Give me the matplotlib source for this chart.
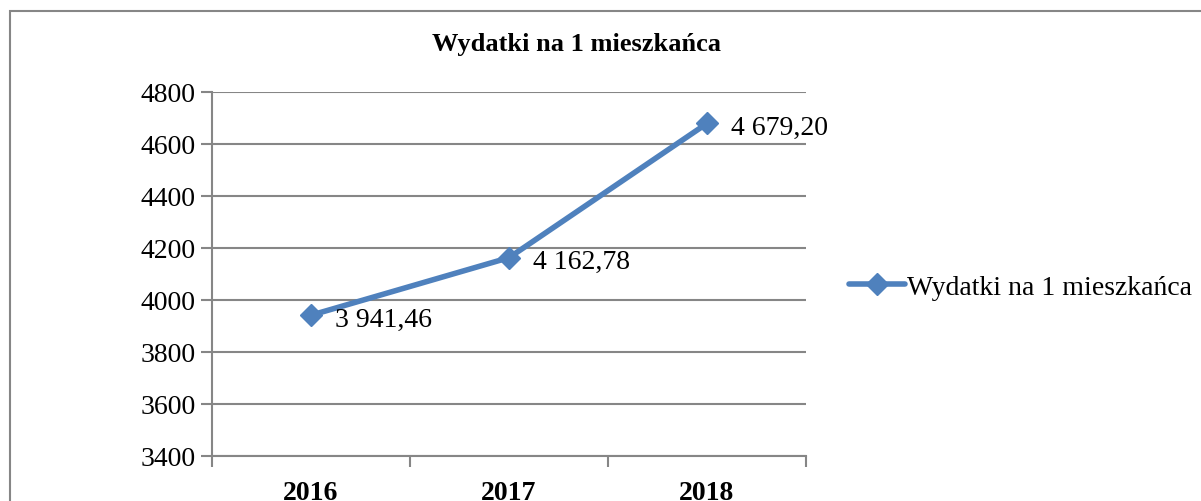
import matplotlib.pyplot as plt
from matplotlib.patches import Rectangle

years = ["2016", "2017", "2018"]
values = [3941.46, 4162.78, 4679.20]
labels = ["3 941,46", "4 162,78", "4 679,20"]
series_name = "Wydatki na 1 mieszkańca"
yticks = [3400, 3600, 3800, 4000, 4200, 4400, 4600, 4800]

plt.rcParams['font.family'] = ['Liberation Serif', 'DejaVu Serif']
blue = '#4F81BD'
grid = '#868686'

fig = plt.figure(figsize=(12.01, 5.02), dpi=100)
W, H = 1201, 502
# outer chart border (runs off the right and bottom edges)
fig.patches.append(Rectangle((10 / W, -0.1), 1.2, 1 - 12 / H + 0.1,
                             transform=fig.transFigure, fill=False,
                             edgecolor=grid, linewidth=1.5))

ax = fig.add_axes([212 / W, 1 - 457 / H, (806 - 212) / W, (457 - 93) / H])
x = list(range(len(years)))
ax.plot(x, values, color=blue, linewidth=4, marker='D', markersize=11,
        label=series_name, solid_capstyle='round')
for xi, v, s in zip(x, values, labels):
    ax.annotate(s, (xi, v), xytext=(17, -3), textcoords='offset points',
                va='center', ha='left', fontsize=20)

ax.set_xlim(-0.5, 2.5)
ax.set_ylim(3400, 4800)
ax.set_yticks(yticks)
ax.set_yticklabels([str(t) for t in yticks], fontsize=20)
ax.set_xticks([-0.5, 0.5, 1.5, 2.5])
ax.set_xticklabels([])
ax.set_xticks(x, minor=True)
ax.set_xticklabels(years, minor=True, fontsize=20, fontweight='bold')
ax.tick_params(axis='x', which='minor', length=0, pad=17)
ax.tick_params(axis='x', which='major', length=8, color=grid, width=1.5)
ax.tick_params(axis='y', length=8, color=grid, width=1.5, pad=4)
ax.grid(axis='y', color=grid, linewidth=1.5)
ax.set_axisbelow(True)
for side in ['top', 'right']:
    ax.spines[side].set_visible(False)
for side in ['left', 'bottom']:
    ax.spines[side].set_color(grid)
    ax.spines[side].set_linewidth(1.5)

fig.text(577 / W, 1 - 45 / H, series_name, ha='center', va='center',
         fontsize=19, fontweight='bold')
fig.legend(loc='center left', bbox_to_anchor=(838 / W, 1 - 288 / H),
           frameon=False, fontsize=20, handlelength=2.0, handletextpad=0.1,
           borderaxespad=0)

fig.savefig('out.png', dpi=100)
